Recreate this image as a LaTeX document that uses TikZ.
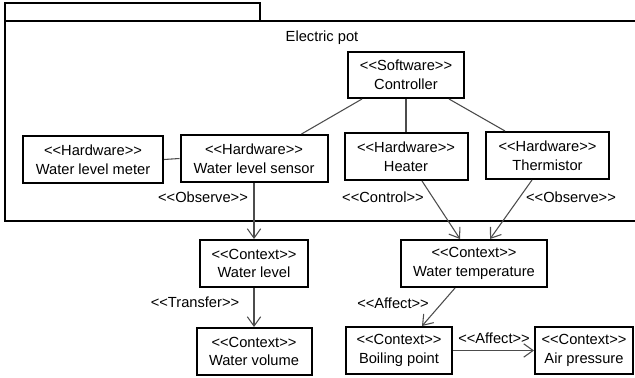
\documentclass[tikz,border=0pt]{standalone}
\usepackage{fontspec}
\setmainfont{Liberation Sans}
\usetikzlibrary{arrows.meta,calc}
% guillemet-free stereotype brackets (a kern stops the << ligature)
\newcommand\stereo[1]{<\kern0pt<#1>\kern0pt>}

\begin{document}
\begin{tikzpicture}[x=0.75pt,y=-0.75pt,
  txt/.style={font=\fontsize{11}{14}\selectfont},
  box/.style={txt,draw=black,line width=1.5pt,align=center,inner sep=0pt,fill=white},
  sz/.style 2 args={minimum width=#1*0.75pt,minimum height=#2*0.75pt},
  lbl/.style={txt,inner sep=0pt},
  link/.style={draw=black!70,line width=0.8pt},
  dep/.style={link,-{Straight Barb[length=7pt,width=10pt]}},
]
\useasboundingbox (0,0) rectangle (635,378);

% package frame with its tab
\begin{scope}
  \clip (0,0) rectangle (635,378);
  \draw[line width=1.5pt] (5,3) rectangle (260,21);
  \draw[line width=1.5pt] (5,21) rectangle (660,221);
\end{scope}
\node[lbl] (pot) at (322,38) {Electric pot};

% components inside the pot
\node[box,sz={116}{46}] (ctrl)   at (406,75)    {\stereo{Software}\\Controller};
\node[box,sz={140}{47}] (meter)  at (93,159.5)  {\stereo{Hardware}\\Water level meter};
\node[box,sz={147}{47}] (sensor) at (254,158.5) {\stereo{Hardware}\\Water level sensor};
\node[box,sz={123}{47}] (heater) at (406,156.5) {\stereo{Hardware}\\Heater};
\node[box,sz={123}{47}] (therm)  at (547.5,155.5) {\stereo{Hardware}\\Thermistor};

% context elements
\node[box,sz={108}{47}] (wlevel) at (254,263.5) {\stereo{Context}\\Water level};
\node[box,sz={115}{47}] (wvol)   at (254,351.5) {\stereo{Context}\\Water volume};
\node[box,sz={146}{47}] (wtemp)  at (474,263.5) {\stereo{Context}\\Water temperature};
\node[box,sz={106}{47}] (boil)   at (399,350.5) {\stereo{Context}\\Boiling point};
\node[box,sz={98}{47}]  (air)    at (584,350.5) {\stereo{Context}\\Air pressure};

% plain associations
\draw[link] ($(ctrl.south west)+(15,0)$) -- ($(sensor.north east)+(-27,0)$);
\draw[link] (ctrl.south) -- (heater.north);
\draw[link] ($(ctrl.south east)+(-16,0)$) -- ($(therm.north west)+(20,0)$);
\draw[link] (meter.east) -- (sensor.west);

% dependencies
\draw[dep] (sensor.south) -- (wlevel.north);
\draw[dep] (wlevel.south) -- (wvol.north);
\draw[dep] ($(heater.south)+(16,0)$) -- ($(wtemp.north)+(-14,0)$);
\draw[dep] ($(therm.south)+(-15.5,0)$) -- ($(wtemp.north)+(16,0)$);
\draw[dep] ($(wtemp.south)+(-19,0)$) -- ($(boil.north)+(23,0)$);
\draw[dep] (boil.east) -- (air.west);

% dependency labels
\node[lbl] (lobs1) at (203,197) {\stereo{Observe}};
\node[lbl] (lctl)  at (383,197) {\stereo{Control}};
\node[lbl] (lobs2) at (571,197) {\stereo{Observe}};
\node[lbl] (ltra)  at (195,302) {\stereo{Transfer}};
\node[lbl] (laff1) at (393,303) {\stereo{Affect}};
\node[lbl] (laff2) at (494,338) {\stereo{Affect}};
\end{tikzpicture}
\end{document}
